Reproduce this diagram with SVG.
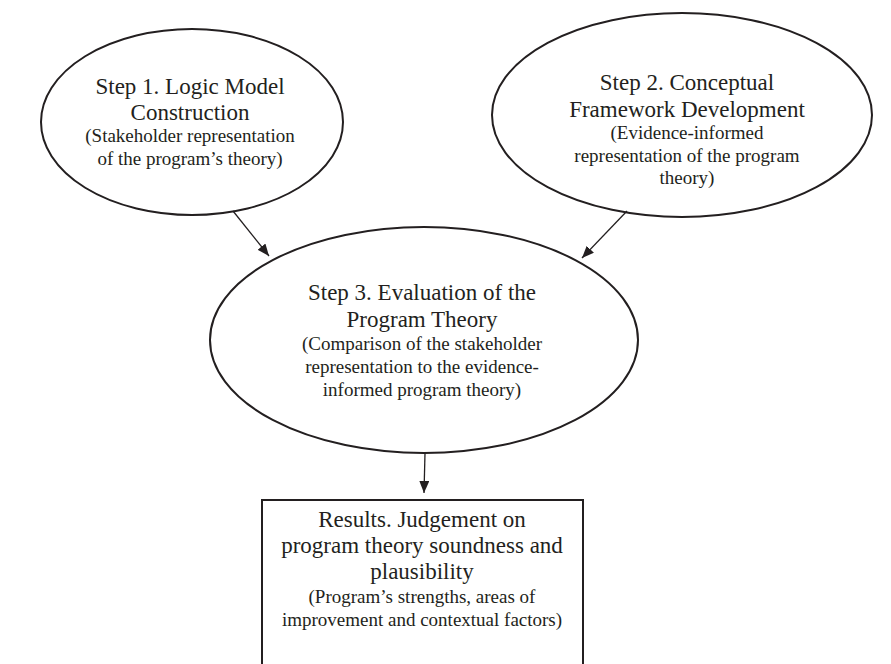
<svg xmlns="http://www.w3.org/2000/svg" width="891" height="664" viewBox="0 0 891 664">
<style>
.shape{fill:#fff;stroke:#231f20;stroke-width:2}
.t{font-family:"Liberation Serif","Times New Roman",serif;fill:#231f20;text-anchor:middle}
.h{font-size:23px}
.s{font-size:19px}
.c{stroke:#231f20;stroke-width:1.3;fill:none}
</style>
<defs>
<marker id="ah" viewBox="0 0 12 10" refX="12" refY="5" markerWidth="12" markerHeight="10" markerUnits="userSpaceOnUse" orient="auto">
<path d="M0,0 L12,5 L0,10 Z" fill="#231f20"/>
</marker>
</defs>
<rect width="891" height="664" fill="#fff"/>
<g id="step1">
<ellipse class="shape" cx="192" cy="122" rx="151" ry="93"/>
<text class="t h" x="190" y="94">Step 1. Logic Model</text>
<text class="t h" x="190" y="120">Construction</text>
<text class="t s" x="190" y="142">(Stakeholder representation</text>
<text class="t s" x="190" y="165">of the program’s theory)</text>
</g>
<g id="step2">
<ellipse class="shape" cx="682" cy="115" rx="190" ry="102"/>
<text class="t h" x="687" y="90">Step 2. Conceptual</text>
<text class="t h" x="687" y="117">Framework Development</text>
<text class="t s" x="687" y="139">(Evidence-informed</text>
<text class="t s" x="687" y="162">representation of the program</text>
<text class="t s" x="687" y="184">theory)</text>
</g>
<g id="step3">
<ellipse class="shape" cx="424" cy="340" rx="214" ry="113"/>
<text class="t h" x="422" y="300">Step 3. Evaluation of the</text>
<text class="t h" x="422" y="327">Program Theory</text>
<text class="t s" x="422" y="350">(Comparison of the stakeholder</text>
<text class="t s" x="422" y="373">representation to the evidence-</text>
<text class="t s" x="422" y="396">informed program theory)</text>
</g>
<g id="results">
<rect class="shape" x="262" y="500" width="321" height="180"/>
<text class="t h" x="422" y="527">Results. Judgement on</text>
<text class="t h" x="422" y="553">program theory soundness and</text>
<text class="t h" x="422" y="579">plausibility</text>
<text class="t s" x="422" y="603">(Program’s strengths, areas of</text>
<text class="t s" x="422" y="626">improvement and contextual factors)</text>
</g>
<g id="connectors">
<line class="c" x1="233" y1="211" x2="269" y2="256" marker-end="url(#ah)"/>
<line class="c" x1="627" y1="211" x2="582" y2="258" marker-end="url(#ah)"/>
<line class="c" x1="425" y1="453" x2="424" y2="493" marker-end="url(#ah)"/>
</g>
</svg>
